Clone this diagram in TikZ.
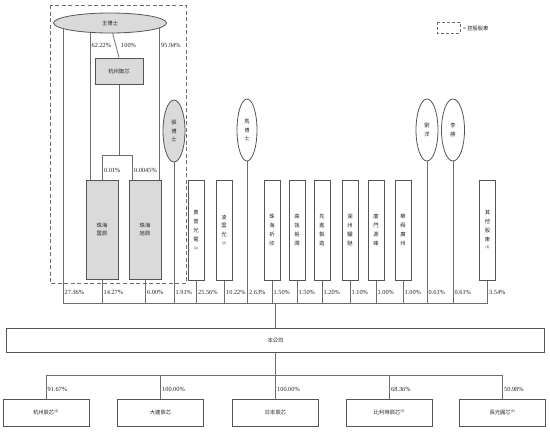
\documentclass[tikz,border=0pt]{standalone}
\usepackage{fontspec}
\setmainfont{Liberation Serif}
\newfontfamily\cjk{Noto Sans CJK TC}
\usetikzlibrary{shapes.geometric,backgrounds}
\definecolor{linec}{HTML}{6E6E6E}
\definecolor{boxc}{HTML}{555555}
\definecolor{gfill}{HTML}{DADADA}
\definecolor{txt}{HTML}{222222}
\newcommand\fnote[1]{{\fontsize{3.4}{5}\selectfont #1}}
\begin{document}
\begin{tikzpicture}[x=1pt,y=-1pt,
  ln/.style={draw=linec, line width=0.75pt},
  pct/.style={anchor=west, inner sep=0pt, font=\fontsize{6.3}{7}\selectfont, text=txt},
  box/.style={draw=boxc, line width=0.8pt, inner sep=0pt, text=txt, font=\cjk\fontsize{5.3}{8.8}\selectfont, align=center},
  gbox/.style={box, fill=gfill},
  vbox/.style={box, fill=white, minimum width=16pt, minimum height=100pt},
  ell/.style={box, ellipse, fill=white},
  gell/.style={box, ellipse, fill=gfill},
  hbox/.style={box, fill=white, minimum width=86pt, minimum height=27pt}
]
\useasboundingbox (0,0) rectangle (550,432);

% controlling shareholder group
\draw[linec, line width=1pt, dash pattern=on 4pt off 2.5pt] (50,5) rectangle (186,283);
\node[gell, minimum width=113pt, minimum height=20pt] (wang) at (110,23) {王博士};
\node[gbox, minimum width=48pt, minimum height=26pt] (qixin) at (119,71) {杭州旗芯};
\node[gbox, minimum width=32pt, minimum height=99pt] (yunchen) at (102,229.5) {珠海\\雲辰};
\node[gbox, minimum width=32pt, minimum height=99pt] (xuchen) at (145,229.5) {珠海\\旭辰};

% individual shareholders
\node[gell, minimum width=22pt, minimum height=62pt] (zhang) at (174,131) {張\\博\\士};
\node[ell, minimum width=20pt, minimum height=62pt] (ma) at (247,130) {馬\\博\\士};
\node[ell, minimum width=22pt, minimum height=62pt] (liu) at (427,130) {劉\\洋};
\node[ell, minimum width=23pt, minimum height=62pt] (li) at (453,130) {李\\勝};

% institutional shareholders
\node[vbox] (aopu) at (196,230) {奧\\普\\光\\電\\[-1pt]\fnote{(1)}};
\node[vbox] (lingyun) at (224,230) {凌\\雲\\光\\[-1pt]\fnote{(2)}};
\node[vbox] (qixin2) at (272,230) {珠\\海\\祈\\欣};
\node[vbox] (gaoling) at (297,230) {高\\瓴\\裕\\潤};
\node[vbox] (xianjin) at (322,230) {先\\進\\製\\造};
\node[vbox] (huzhou) at (350,230) {湖\\州\\驪\\馳};
\node[vbox] (xiamen) at (376,230) {廈\\門\\源\\峰};
\node[vbox] (huashun) at (403,230) {華\\舜\\廣\\州};
\node[vbox] (others) at (487.5,230) {其\\他\\股\\東\\[-1pt]\fnote{(3)}};

% company
\node[box, fill=white, minimum width=538pt, minimum height=24pt] (company) at (275.5,340) {本公司};

% subsidiaries
\node[hbox] (hz) at (46,412.5) {杭州辰芯\textsuperscript{\fnote{(4)}}};
\node[hbox] (dl) at (160.5,412.5) {大連辰芯};
\node[hbox] (jp) at (275.5,412.5) {日本辰芯};
\node[hbox] (be) at (389.5,412.5) {比利時辰芯\textsuperscript{\fnote{(5)}}};
\node[hbox] (cg) at (502.5,412.5) {長光圓芯\textsuperscript{\fnote{(6)}}};

% legend
\draw[linec, line width=0.8pt, dash pattern=on 3pt off 2pt] (437,22) rectangle (460,33);
\node[anchor=west, inner sep=0pt, text=txt, font=\cjk\fontsize{5.3}{6}\selectfont] (legend) at (463,28) {= 控股股東};

% coordinates
\coordinate (bL) at (63,303);
\coordinate (bR) at (487.5,303);
\coordinate (t62) at (90,180);
\coordinate (t95) at (159,180);
\coordinate (jn) at (119,155);
\coordinate (jL) at (102,155);
\coordinate (jR) at (132,155);
\coordinate (m) at (275.5,375);

\begin{scope}[on background layer]
  \draw[ln] (wang.center -| bL) -- (bL);
  \draw[ln] (wang.center -| t62) -- (t62);
  \draw[ln] (wang.center) -- (qixin.north);
  \draw[ln] (wang.center -| t95) -- (t95);
  \draw[ln] (qixin.south) -- (jn);
  \draw[ln] (jL) -- (jR);
  \draw[ln] (jL) -- (jL |- yunchen.north);
  \draw[ln] (jR) -- (jR |- xuchen.north);
  \draw[ln] (bL) -- (bR);
  \foreach \n in {yunchen,xuchen,aopu,lingyun,qixin2,gaoling,xianjin,huzhou,xiamen,huashun,others}
    \draw[ln] (\n.south) -- (\n.south |- bL);
  \foreach \n in {zhang,ma,liu,li}
    \draw[ln] (\n.center) -- (\n.center |- bL);
  \draw[ln] (company.north) -- (company.north |- bL);
  \draw[ln] (company.south) -- (m);
  \draw[ln] (hz.north |- m) -- (cg.north |- m);
  \foreach \n in {hz,dl,jp,be,cg}
    \draw[ln] (\n.north) -- (\n.north |- m);
\end{scope}

% percentages
\node[pct] at (91.5,45) {62.22\%};
\node[pct] at (121,45) {100\%};
\node[pct] at (161,45) {95.94\%};
\node[pct] at (104,170) {0.01\%};
\node[pct] at (134,170) {0.0045\%};
\foreach \x/\t in {64.5/27.36, 103.5/14.27, 147/6.00, 175.5/1.91, 198/25.56, 226/10.22, 249/2.63, 273.5/1.50, 298.5/1.50, 323.5/1.20, 351.5/1.10, 377.5/1.00, 404.5/1.00, 428.5/0.61, 454.5/0.61, 489/3.54}
  \node[pct] at (\x,292) {\t\%};
\foreach \x/\t in {47.5/91.67, 162/100.00, 277/100.00, 391/68.36, 504/50.98}
  \node[pct] at (\x,389) {\t\%};
\end{tikzpicture}
\end{document}
